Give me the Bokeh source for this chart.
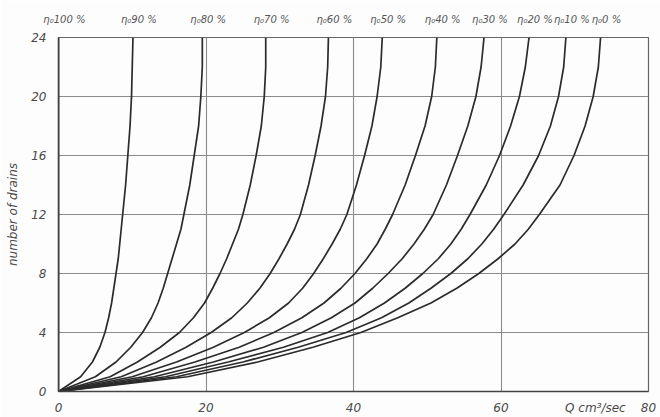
from bokeh.plotting import figure
from bokeh.models import Range1d, FixedTicker, LinearAxis
from bokeh.embed import file_html
from bokeh.resources import INLINE

# number of drains (y) at which the discharge Q (x, cm3/sec) is read
drains = [0, 1, 2, 3, 4, 5, 6, 7, 8, 9, 10, 11, 12, 14, 16, 18, 20, 22, 24]

efficiency = ["100", "90", "80", "70", "60", "50", "40", "30", "20", "10", "0"]

q_100 = [0, 0, 0, 0, 0, 0, 0, 0, 0, 0, 0, 0, 0, 0, 0, 0, 0, 0, 0]
q_90 = [0, 3.0, 4.6, 5.6, 6.3, 6.8, 7.2, 7.5, 7.8, 8.1, 8.3, 8.5, 8.7, 9.1, 9.4, 9.7, 9.9, 10.0, 10.1]
q_80 = [0, 5.0, 7.8, 9.8, 11.4, 12.6, 13.5, 14.2, 14.8, 15.4, 16.0, 16.6, 17.0, 17.8, 18.4, 19.0, 19.3, 19.5, 19.5]
q_70 = [0, 7.0, 10.7, 13.8, 16.4, 18.3, 19.8, 20.9, 21.9, 22.8, 23.6, 24.4, 25.0, 26.0, 26.8, 27.5, 27.9, 28.1, 28.1]
q_60 = [0, 8.5, 13.3, 17.3, 20.7, 23.5, 25.6, 27.3, 28.7, 29.9, 31.0, 32.0, 32.8, 33.9, 34.8, 35.6, 36.2, 36.5, 36.6]
q_50 = [0, 10.0, 16.0, 21.0, 25.2, 28.6, 31.2, 33.1, 34.6, 35.9, 37.1, 38.2, 39.1, 40.4, 41.5, 42.5, 43.2, 43.7, 43.9]
q_40 = [0, 11.5, 18.5, 24.5, 29.2, 33.0, 36.0, 38.3, 40.2, 41.8, 43.2, 44.3, 45.3, 47.0, 48.4, 49.7, 50.6, 51.1, 51.3]
q_30 = [0, 13.0, 21.0, 27.8, 33.0, 37.0, 40.2, 42.6, 44.7, 46.6, 48.2, 49.6, 50.8, 52.6, 54.1, 55.5, 56.6, 57.3, 57.7]
q_20 = [0, 14.5, 23.0, 30.5, 36.5, 40.8, 44.2, 47.0, 49.4, 51.5, 53.2, 54.6, 55.8, 58.0, 59.8, 61.3, 62.5, 63.3, 63.8]
q_10 = [0, 16.0, 25.0, 32.5, 39.0, 43.8, 47.5, 50.5, 53.2, 55.5, 57.4, 59.0, 60.4, 63.0, 65.1, 66.7, 67.8, 68.5, 68.8]
q_0 = [0, 17.5, 27.0, 34.5, 41.0, 46.0, 50.5, 54.0, 57.0, 59.6, 61.9, 63.7, 65.2, 68.0, 69.9, 71.4, 72.5, 73.2, 73.5]

series = [q_100, q_90, q_80, q_70, q_60, q_50, q_40, q_30, q_20, q_10, q_0]

x_ticks = [0, 20, 40, 60, 80]
y_ticks = [0, 4, 8, 12, 16, 20, 24]
unit_label = "Q cm³/sec"
unit_pos = 72.8

FONT = "DejaVu Sans"
TXT = "#4a4a4a"

p = figure(width=660, height=417, output_backend="svg", toolbar_location=None,
           x_range=Range1d(0, 80), y_range=Range1d(0, 24),
           min_border_left=58, min_border_right=12, min_border_top=37, min_border_bottom=24)
p.background_fill_color = "#fdfdfd"
p.border_fill_color = "#fdfdfd"
p.outline_line_color = "#666666"
p.outline_line_width = 1.2

for q in series:
    p.line(q, drains, line_color="#2b2b2b", line_width=1.7)

p.xaxis.ticker = FixedTicker(ticks=x_ticks + [unit_pos])
p.xaxis.major_label_overrides = {unit_pos: unit_label}
p.yaxis.ticker = FixedTicker(ticks=y_ticks)
p.xgrid.ticker = FixedTicker(ticks=x_ticks)
p.ygrid.ticker = FixedTicker(ticks=y_ticks)
p.grid.grid_line_color = "#8a8a8a"
p.grid.grid_line_width = 1.1
p.grid.grid_line_alpha = 1.0

for ax in (p.xaxis, p.yaxis):
    ax.axis_line_color = "#444444"
    ax.axis_line_width = 1.5
    ax.major_tick_line_color = None
    ax.minor_tick_line_color = None
    ax.major_tick_out = 0
    ax.major_tick_in = 0
    ax.major_label_text_font = FONT
    ax.major_label_text_font_style = "italic"
    ax.major_label_text_font_size = "12px"
    ax.major_label_text_color = TXT
p.xaxis.major_label_standoff = 9
p.yaxis.major_label_standoff = 12

p.yaxis.axis_label = "number of drains"
p.yaxis.axis_label_text_font = FONT
p.yaxis.axis_label_text_font_style = "italic"
p.yaxis.axis_label_text_font_size = "12px"
p.yaxis.axis_label_text_color = TXT
p.yaxis.axis_label_standoff = 8

# efficiency labels above the curve ends
tops = [q[-1] for q in series]
p.extra_x_ranges = {"labels": Range1d(-0.8, 79.2)}
top_axis = LinearAxis(x_range_name="labels",
                      ticker=FixedTicker(ticks=tops),
                      major_label_overrides={t: "η₀" + e + " %" for t, e in zip(tops, efficiency)})
top_axis.axis_line_color = None
top_axis.major_tick_line_color = None
top_axis.minor_tick_line_color = None
top_axis.major_tick_out = 0
top_axis.major_tick_in = 0
top_axis.major_label_standoff = 13
top_axis.major_label_text_font = FONT
top_axis.major_label_text_font_style = "italic"
top_axis.major_label_text_font_size = "10px"
top_axis.major_label_text_color = "#555555"
p.add_layout(top_axis, "above")

open("out.html", "w").write(file_html(p, INLINE))
